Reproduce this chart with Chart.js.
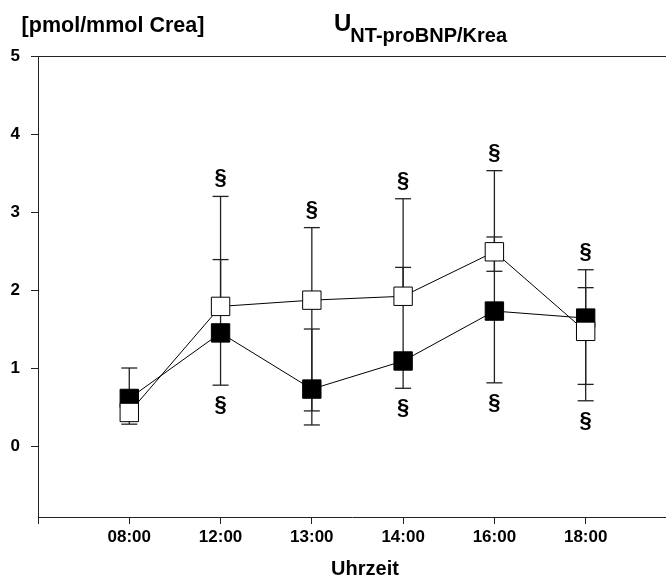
<!DOCTYPE html>
<html>
<head>
<meta charset="utf-8">
<script src="https://cdn.jsdelivr.net/npm/chart.js@4/dist/chart.umd.min.js"></script>
<style>
  html, body { margin: 0; padding: 0; background: #fff; }
  #wrap { width: 666px; height: 580px; }
</style>
</head>
<body>
<div id="wrap"><canvas id="c" width="666" height="580"></canvas></div>
<script>
// Time points
const timeLabels = ['08:00', '12:00', '13:00', '14:00', '16:00', '18:00'];

// Open squares: means and whisker ends (null = no whisker on that side)
const openMean  = [0.43, 1.79, 1.87, 1.92, 2.49, 1.47];
const openUpper = [null, 3.20, 2.80, 3.17, 3.53, 2.26];
const openLower = [0.28, null, 0.27, null, 2.24, 0.58];

// Filled squares: means and whisker ends
const filledMean  = [0.61, 1.45, 0.73, 1.09, 1.73, 1.64];
const filledUpper = [1.00, 2.39, 1.50, 2.29, 2.68, 2.03];
const filledLower = [null, 0.78, 0.45, 0.74, 0.81, 0.79];

// Significance marks above / below the whiskers
const sigAbove = ['', '§', '§', '§', '§', '§'];
const sigBelow = ['', '§', '', '§', '§', '§'];

// Y axis tick values
const yTickValues = [0, 1, 2, 3, 4, 5];

const FONT = '"Liberation Sans", Arial, sans-serif';
const INK = '#000';
const AXIS = '#222';

function toPoints(values) {
  return values.map((v, i) => ({ x: i, y: v }));
}

// Whiskers with end caps, drawn underneath the squares
const errorBars = {
  id: 'errorBars',
  beforeDatasetsDraw(chart) {
    const { ctx, scales: { x, y } } = chart;
    const groups = [
      { mean: filledMean, up: filledUpper, lo: filledLower },
      { mean: openMean, up: openUpper, lo: openLower }
    ];
    const capHalf = 8;
    ctx.save();
    ctx.strokeStyle = '#222';
    ctx.lineWidth = 1.3;
    groups.forEach(g => {
      g.mean.forEach((m, i) => {
        const px = x.getPixelForValue(i);
        const top = g.up[i] != null ? g.up[i] : m;
        const bot = g.lo[i] != null ? g.lo[i] : m;
        ctx.beginPath();
        ctx.moveTo(px, y.getPixelForValue(top));
        ctx.lineTo(px, y.getPixelForValue(bot));
        ctx.stroke();
        [g.up[i], g.lo[i]].forEach(v => {
          if (v == null) return;
          const py = y.getPixelForValue(v);
          ctx.beginPath();
          ctx.moveTo(px - capHalf, py);
          ctx.lineTo(px + capHalf, py);
          ctx.stroke();
        });
      });
    });
    ctx.restore();
  }
};

// Frame top line, significance marks and text labels
const decorations = {
  id: 'decorations',
  afterDraw(chart) {
    const { ctx, chartArea, scales: { x, y } } = chart;
    ctx.save();
    ctx.strokeStyle = AXIS;
    ctx.lineWidth = 1;
    ctx.beginPath();
    ctx.moveTo(chartArea.left, chartArea.top + 0.5);
    ctx.lineTo(chart.width, chartArea.top + 0.5);
    ctx.stroke();

    ctx.fillStyle = INK;
    ctx.textAlign = 'center';
    ctx.textBaseline = 'middle';
    ctx.font = 'bold 22px ' + FONT;
    timeLabels.forEach((_, i) => {
      const px = x.getPixelForValue(i);
      const highs = [openUpper[i], filledUpper[i], openMean[i], filledMean[i]].filter(v => v != null);
      const lows = [openLower[i], filledLower[i], openMean[i], filledMean[i]].filter(v => v != null);
      if (sigAbove[i]) ctx.fillText(sigAbove[i], px, y.getPixelForValue(Math.max(...highs)) - 18);
      if (sigBelow[i]) ctx.fillText(sigBelow[i], px, y.getPixelForValue(Math.min(...lows)) + 20);
    });

    // unit label
    ctx.font = 'bold 21.5px ' + FONT;
    ctx.fillText('[pmol/mmol Crea]', 113, 26);

    // title with subscript
    ctx.textAlign = 'left';
    ctx.textBaseline = 'alphabetic';
    ctx.font = 'bold 24px ' + FONT;
    const uX = 334;
    ctx.fillText('U', uX, 31);
    const uW = ctx.measureText('U').width;
    ctx.font = 'bold 20px ' + FONT;
    ctx.fillText('NT-proBNP/Krea', uX + uW - 1, 42);

    // x axis title
    ctx.textAlign = 'center';
    ctx.textBaseline = 'middle';
    ctx.font = 'bold 20px ' + FONT;
    ctx.fillText('Uhrzeit', 365, 569);
    ctx.restore();
  }
};

new Chart(document.getElementById('c'), {
  type: 'line',
  data: {
    datasets: [
      {
        label: 'offen',
        order: 0,
        data: toPoints(openMean),
        borderColor: INK,
        borderWidth: 1,
        backgroundColor: '#fff',
        pointStyle: 'rect',
        pointRadius: 13,
        pointHoverRadius: 13,
        pointBorderWidth: 1,
        pointBorderColor: INK,
        pointBackgroundColor: '#fff',
        tension: 0
      },
      {
        label: 'gefüllt',
        order: 1,
        data: toPoints(filledMean),
        borderColor: INK,
        borderWidth: 1,
        backgroundColor: INK,
        pointStyle: 'rect',
        pointRadius: 13,
        pointHoverRadius: 13,
        pointBorderWidth: 1,
        pointBorderColor: INK,
        pointBackgroundColor: INK,
        tension: 0
      }
    ]
  },
  options: {
    responsive: false,
    animation: false,
    events: [],
    layout: { autoPadding: false, padding: { top: 56, left: 0, right: 0, bottom: 0 } },
    plugins: {
      legend: { display: false },
      tooltip: { enabled: false },
      title: { display: false }
    },
    scales: {
      x: {
        type: 'linear',
        min: -1,
        max: 5.88,
        afterBuildTicks(scale) {
          scale.ticks = [-1, ...timeLabels.map((_, i) => i)].map(v => ({ value: v }));
        },
        afterFit(scale) {
          scale.height = 63;
          scale.paddingLeft = 0;
          scale.paddingRight = 0;
        },
        ticks: {
          autoSkip: false,
          maxRotation: 0,
          padding: 3,
          color: INK,
          font: { family: FONT, size: 17, weight: 'bold' },
          callback: v => (v >= 0 ? timeLabels[v] : '')
        },
        grid: { drawOnChartArea: false, drawTicks: true, tickLength: 7, color: AXIS, lineWidth: 1 },
        border: { display: true, color: AXIS, width: 1 }
      },
      y: {
        type: 'linear',
        min: -0.91,
        max: 5,
        afterBuildTicks(scale) {
          scale.ticks = yTickValues.map(v => ({ value: v }));
        },
        afterFit(scale) {
          scale.width = 38;
          scale.paddingTop = 0;
          scale.paddingBottom = 0;
        },
        ticks: {
          padding: 11,
          color: INK,
          font: { family: FONT, size: 17, weight: 'bold' }
        },
        grid: { drawOnChartArea: false, drawTicks: true, tickLength: 7, color: AXIS, lineWidth: 1 },
        border: { display: true, color: AXIS, width: 1 }
      }
    }
  },
  plugins: [errorBars, decorations]
});
</script>
</body>
</html>
